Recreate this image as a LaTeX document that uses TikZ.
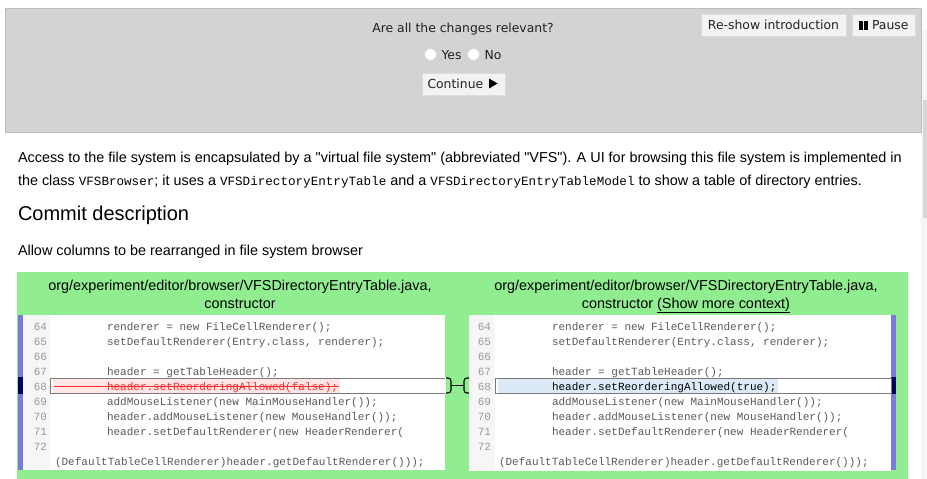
\documentclass[tikz,border=0pt]{standalone}
\usepackage{fontspec}
\setmainfont{Liberation Sans}[Ligatures=TeXOff]
\setmonofont{Liberation Mono}
\newfontfamily\dvs{DejaVu Sans}
\usetikzlibrary{calc}
\definecolor{panelgray}{HTML}{D3D3D3}
\definecolor{panelborder}{HTML}{BDBDBD}
\definecolor{btnfill}{HTML}{F3F3F3}
\definecolor{btnborder}{HTML}{DCDCDC}
\definecolor{diffgreen}{HTML}{90EE90}
\definecolor{barblue}{HTML}{7A7ADC}
\definecolor{marknavy}{HTML}{000060}
\definecolor{numcol}{HTML}{F6F6F6}
\definecolor{numgray}{HTML}{999999}
\definecolor{codegray}{HTML}{5A5A5A}
\definecolor{delred}{HTML}{FF2A2A}
\definecolor{delpink}{HTML}{FFE6E6}
\definecolor{addblue}{HTML}{DCEAF8}
\definecolor{rowline}{HTML}{7A7A7A}
\definecolor{tracklight}{HTML}{F5F5F5}
\definecolor{thumbgray}{HTML}{D6D6D6}
\definecolor{textdark}{HTML}{222222}
\begin{document}
\begin{tikzpicture}[x=1pt,y=-1pt,
  every node/.style={inner sep=0pt,outer sep=0pt},
  btn/.style={draw=btnborder,fill=btnfill,line width=0.8pt},
  uitext/.style={font=\dvs\fontsize{12.4}{14}\selectfont,text=textdark,anchor=base},
  para/.style={font=\fontsize{14.4}{17}\selectfont,text=black,anchor=base west},
  hdr/.style={font=\fontsize{14.4}{17}\selectfont,text=black,anchor=base},
  code/.style={font=\ttfamily\fontsize{11}{13}\selectfont,text=codegray,anchor=base west},
  lnum/.style={font=\ttfamily\fontsize{11}{13}\selectfont,text=numgray,anchor=base east},
  codebox/.style={fill=white,draw=none},
  numbox/.style={fill=numcol,draw=none},
  bar/.style={fill=barblue,draw=none},
  marker/.style={fill=marknavy,draw=none},
  rowbox/.style={draw=rowline,line width=0.8pt},
  conn/.style={draw=black,line width=1.1pt,rounded corners=3pt},
  radio/.style={circle,fill=white,draw=btnborder,line width=0.6pt,minimum size=11.5pt}
]
\useasboundingbox (0,0) rectangle (927,479);
\fill[white] (0,0) rectangle (927,479);

% scrollbar
\fill[tracklight] (921,30) rectangle (927,479);
\fill[thumbgray] (922.5,100) rectangle (926.5,218);

% top panel
\node[fill=panelgray,draw=panelborder,line width=0.8pt,minimum width=916pt,minimum height=124pt,anchor=north west] (panel) at (5,8) {};
\node[uitext] (question) at (463,32.5) {Are all the changes relevant?};
\node[btn,minimum width=145pt,minimum height=22pt,anchor=north west] (reshow) at (701,14) {};
\node[uitext] at (773.5,29.5) {Re-show introduction};
\node[btn,minimum width=63pt,minimum height=22pt,anchor=north west] (pause) at (852,14) {};
\fill[black] (859,20.5) rectangle (862.5,29.5);
\fill[black] (864,20.5) rectangle (867.5,29.5);
\node[uitext,anchor=base west] at (872,29.5) {Pause};
\node[radio] (yes) at (430.5,54.5) {};
\node[uitext,anchor=base west] at (441.5,59) {Yes};
\node[radio] (no) at (473.5,54.5) {};
\node[uitext,anchor=base west] at (484.5,59) {No};
\node[btn,minimum width=83pt,minimum height=22pt,anchor=north west] (continue) at (422,73) {};
\node[uitext,anchor=base west] at (427.5,88) {Continue};
\fill[black] (489,78.5) -- (497.5,83.5) -- (489,88.5) -- cycle;

% description paragraph
\node[para] (p1) at (18,162) {Access to the file system is encapsulated by a "virtual file system" (abbreviated "VFS"). A UI for browsing this file system is implemented in};
\node[para] (p2) at (18,185) {the class {\ttfamily\fontsize{12.6}{14}\selectfont VFSBrowser}; it uses a {\ttfamily\fontsize{12.6}{14}\selectfont VFSDirectoryEntryTable} and a {\ttfamily\fontsize{12.6}{14}\selectfont VFSDirectoryEntryTableModel} to show a table of directory entries.};
\node[para,font=\fontsize{20}{24}\selectfont] (heading) at (18,220) {Commit description};
\node[para] (commit) at (18,255) {Allow columns to be rearranged in file system browser};

% green diff area
\fill[diffgreen] (17,272) rectangle (908,479);
\node[hdr] (hL1) at (240,290) {org/experiment/editor/browser/VFSDirectoryEntryTable.java,};
\node[hdr] (hL2) at (240,308) {constructor};
\node[hdr] (hR1) at (686,290) {org/experiment/editor/browser/VFSDirectoryEntryTable.java,};
\node[hdr] (hR2) at (686,308) {constructor \underline{(Show more context)}};

% left code box
\fill[bar] (18,315) rectangle (23,470);
\node[codebox,minimum width=422pt,minimum height=155pt,anchor=north west] (codeL) at (23,315) {};
\fill[numcol] (23,315) rectangle (50,470);
\fill[delpink] (53,379) rectangle (340,393);
\fill[marker] (18,377) rectangle (23,394);
\node[rowbox,minimum width=395pt,minimum height=15pt,anchor=north west] (rowL) at (50,378) {};
\fill[white] (445.4,377) rectangle (446,394);

% right code box
\fill[bar] (891,315) rectangle (896,470);
\node[codebox,minimum width=422pt,minimum height=156pt,anchor=north west] (codeR) at (469,315) {};
\fill[numcol] (469,315) rectangle (495,470);
\fill[addblue] (498,379) rectangle (778,393);
\fill[marker] (891,377) rectangle (896,394);
\node[rowbox,minimum width=396pt,minimum height=15pt,anchor=north west] (rowR) at (495,378) {};

% line numbers
\foreach \n [count=\i from 0] in {64,65,66,67,68,69,70,71,72}{
  \node[lnum] at (47,330+15*\i) {\n};
  \node[lnum] at (491,330+15*\i) {\n};
}

% left code
\node[code] at (107,330) {renderer = new FileCellRenderer();};
\node[code] at (107,345) {setDefaultRenderer(Entry.class, renderer);};
\node[code] at (107,375) {header = getTableHeader();};
\node[code,text=delred] (delL) at (107,390) {header.setReorderingAllowed(false);};
\draw[delred,line width=0.8pt] (54,386) -- (339,386);
\node[code] at (107,405) {addMouseListener(new MainMouseHandler());};
\node[code] at (107,420) {header.addMouseListener(new MouseHandler());};
\node[code] at (107,435) {header.setDefaultRenderer(new HeaderRenderer(};
\node[code] at (55,465) {(DefaultTableCellRenderer)header.getDefaultRenderer()));};

% right code
\node[code] at (552,330) {renderer = new FileCellRenderer();};
\node[code] at (552,345) {setDefaultRenderer(Entry.class, renderer);};
\node[code] at (552,375) {header = getTableHeader();};
\node[code,text=black] (addR) at (552,390) {header.setReorderingAllowed(true);};
\node[code] at (552,405) {addMouseListener(new MainMouseHandler());};
\node[code] at (552,420) {header.addMouseListener(new MouseHandler());};
\node[code] at (552,435) {header.setDefaultRenderer(new HeaderRenderer(};
\node[code] at (499,465) {(DefaultTableCellRenderer)header.getDefaultRenderer()));};

% connector between changed rows
\draw[conn] ($(rowL.north east)+(1,0)$) -- ($(rowL.north east)+(6,0)$) -- ($(rowL.south east)+(6,0)$) -- ($(rowL.south east)+(1,0)$);
\draw[conn] (codeR.west |- rowR.north) -- ++(-5,0) -- ($(codeR.west |- rowR.south)+(-5,0)$) -- (codeR.west |- rowR.south);
\draw[black,line width=1.1pt] ($(rowL.east)+(6,0)$) -- ($(codeR.west |- rowR.east)+(-5,0)$);
\end{tikzpicture}
\end{document}
